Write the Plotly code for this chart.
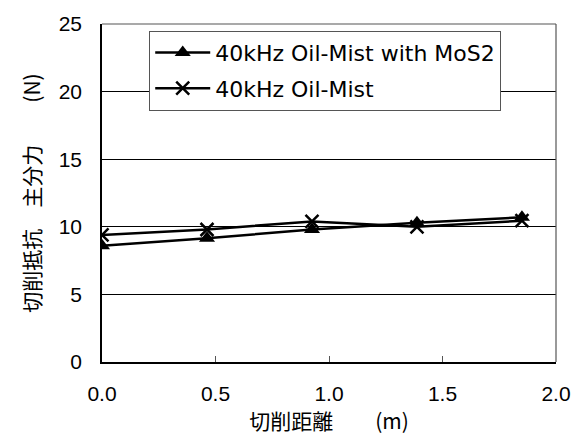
import plotly.graph_objects as go

distance = [0.0, 0.4625, 0.925, 1.3875, 1.85]
mos2 = [8.6, 9.15, 9.8, 10.3, 10.7]
oil = [9.4, 9.8, 10.4, 10.0, 10.45]
names = ["40kHz Oil-Mist with MoS2", "40kHz Oil-Mist"]

fig = go.Figure()
fig.add_trace(go.Scatter(x=distance, y=mos2, name=names[0], mode="lines+markers",
                         legendgroup="a",
                         line=dict(color="black", width=2.5),
                         marker=dict(symbol="triangle-up", size=14, color="black")))
fig.add_trace(go.Scatter(x=distance, y=oil, name=names[1], mode="lines+markers",
                         legendgroup="b",
                         line=dict(color="black", width=2.5),
                         marker=dict(symbol="x-thin", size=13, color="black",
                                     line=dict(color="black", width=2.5))))

font = "Liberation Sans, Arial, sans-serif"
cjk = "Noto Sans CJK JP, sans-serif"
fig.update_layout(
    width=584, height=446,
    margin=dict(l=102, r=28, t=20, b=84),
    paper_bgcolor="white", plot_bgcolor="white",
    font=dict(family=font, size=21, color="black"),
    showlegend=True,
    legend=dict(x=0.104, y=0.98, xanchor="left", yanchor="top",
                bgcolor="white", bordercolor="#555", borderwidth=1,
                font=dict(size=22, family="DejaVu Sans, sans-serif"),
                traceorder="grouped", tracegroupgap=4,
                itemwidth=55),
    xaxis=dict(range=[0, 2], tickvals=[0, 0.5, 1.0, 1.5, 2.0],
               ticktext=["0.0", "0.5", "1.0", "1.5", "2.0"],
               ticks="inside", ticklen=6, tickcolor="#555",
               ticklabelstandoff=12,
               showline=True, linecolor="black", linewidth=1.5, mirror=False,
               showgrid=False, zeroline=False,
               title=dict(text="切削距離　　(m)", standoff=4,
                          font=dict(size=21, family=cjk))),
    yaxis=dict(range=[0, 25], tickvals=[0, 5, 10, 15, 20, 25],
               ticks="", ticklabelstandoff=14,
               showline=True, linecolor="black", linewidth=1.5,
               showgrid=True, gridcolor="black", gridwidth=1, zeroline=False,
               title=dict(text="切削抵抗　主分力　　(N)", standoff=12,
                          font=dict(size=21, family=cjk))),
)
# top/right frame in gray
fig.add_shape(type="line", xref="paper", yref="paper", x0=0, x1=1, y0=1, y1=1,
              line=dict(color="#555", width=1.2))
fig.add_shape(type="line", xref="paper", yref="paper", x0=1, x1=1, y0=0, y1=1,
              line=dict(color="#555", width=1.2))
fig.write_html("out.html")
